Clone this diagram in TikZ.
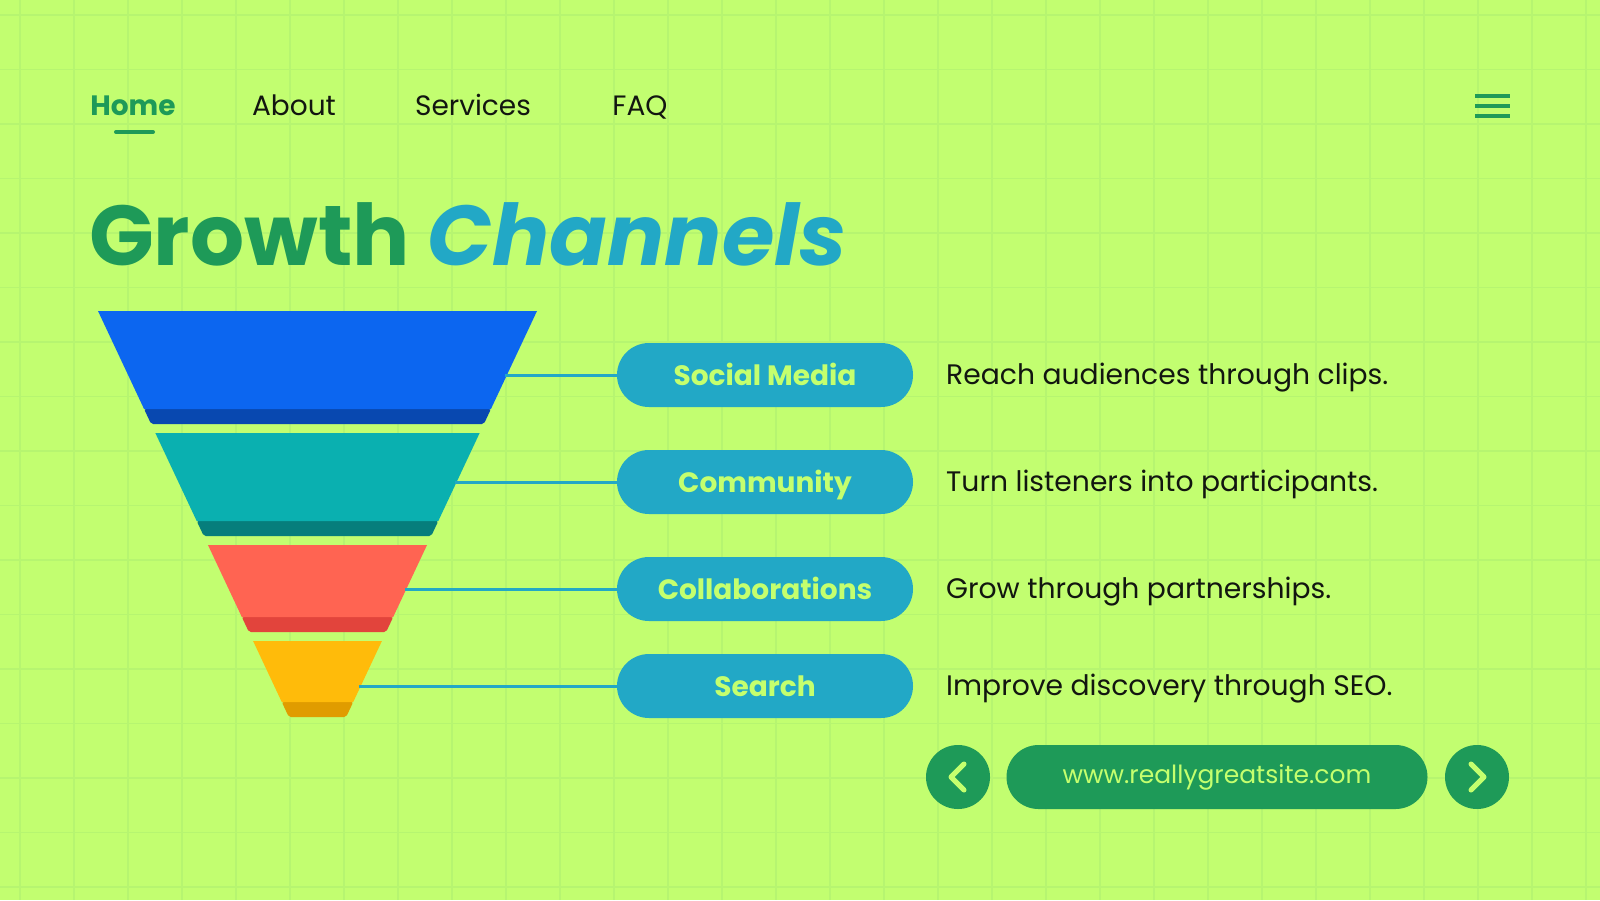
\documentclass[tikz,border=0pt]{standalone}
\usepackage{fontspec}
\setmainfont{Poppins}
\definecolor{bgLime}{RGB}{194,254,112}
\definecolor{gridLime}{RGB}{182,245,112}
\definecolor{darkGreen}{RGB}{30,154,88}
\definecolor{pillTeal}{RGB}{34,168,198}
\definecolor{inkBlack}{RGB}{18,22,16}
\definecolor{limeText}{RGB}{196,255,110}
\definecolor{fBlue}{RGB}{12,102,240}
\definecolor{fBlueD}{RGB}{8,72,176}
\definecolor{fTeal}{RGB}{10,176,176}
\definecolor{fTealD}{RGB}{6,126,124}
\definecolor{fRed}{RGB}{255,100,82}
\definecolor{fRedD}{RGB}{226,68,60}
\definecolor{fGold}{RGB}{255,187,10}
\definecolor{fGoldD}{RGB}{224,156,0}
\tikzset{
  gridline/.style={draw=gridLime, line width=1.3pt},
  navitem/.style={inner sep=0, anchor=base, text=inkBlack, font=\fontsize{28}{30}\selectfont},
  pill/.style={fill=pillTeal, rounded corners=32pt, minimum width=296pt, minimum height=64pt, inner sep=0,
    text height=20pt, text depth=0pt, text=limeText, font=\bfseries\fontsize{28}{30}\selectfont},
  desc/.style={inner sep=0, anchor=base west, text=inkBlack, font=\fontsize{28.2}{30}\selectfont},
  link/.style={draw=pillTeal, line width=3pt},
  roundbtn/.style={circle, fill=darkGreen, minimum size=64pt, inner sep=0},
  chev/.style={draw=limeText, line width=5pt, line cap=round, line join=round},
}
\begin{document}
\begin{tikzpicture}[x=1pt,y=-1pt]
\useasboundingbox (0,0) rectangle (1600,900);
\fill[bgLime] (0,0) rectangle (1600,900);
% grid
\foreach \i in {0,...,29} \draw[gridline] (20+54*\i,0) -- (20+54*\i,900);
\foreach \j in {0,...,16} \draw[gridline] (0,15+54.5*\j) -- (1600,15+54.5*\j);

% menu
\node[navitem, text=darkGreen, font=\bfseries\fontsize{28}{30}\selectfont] (home) at (133,115) {Home};
\node[navitem] (about) at (294,115) {About};
\node[navitem] (services) at (473,115) {Services};
\node[navitem] (faq) at (640,115) {FAQ};
\draw[darkGreen, line width=4pt, line cap=round] (116,132) -- (153,132);
\foreach \y in {96,106,116} \draw[darkGreen, line width=3.5pt] (1475,\y) -- (1510,\y);

% title
\node[inner sep=0, anchor=base west, font=\bfseries\fontsize{85}{90}\selectfont] (title) at (89,265)
  {\textcolor{darkGreen}{Growth} \textcolor{pillTeal}{\itshape Channels}};

% funnel
\foreach \yt/\yb/\cm/\cd in {311/424/fBlue/fBlueD, 433/536/fTeal/fTealD, 545/632/fRed/fRedD, 641/717/fGold/fGoldD}{
  \pgfmathsetmacro{\wt}{219.5-0.47*(\yt-311)}
  \pgfmathsetmacro{\wb}{219.5-0.47*(\yb-311)}
  \pgfmathsetmacro{\ys}{\yb-15}
  \pgfmathsetmacro{\ws}{219.5-0.47*(\ys-311)}
  \fill[\cd, rounded corners=2pt] (317.5-\ws,\ys) -- (317.5+\ws,\ys) -- (317.5+\wb,\yb) -- (317.5-\wb,\yb) -- cycle;
  \fill[\cm] (317.5-\wt,\yt) -- (317.5+\wt,\yt) -- (317.5+\ws,\ys) -- (317.5-\ws,\ys) -- cycle;
}

% channels
\coordinate (cSocial) at (505,375);
\coordinate (cCommunity) at (455,482);
\coordinate (cCollab) at (405,589);
\coordinate (cSearch) at (359,686);
\node[pill] (pSocial) at (765,375) {Social Media};
\node[pill] (pCommunity) at (765,482) {Community};
\node[pill] (pCollab) at (765,589) {Collaborations};
\node[pill] (pSearch) at (765,686) {Search};
\draw[link] (cSocial) -- (pSocial);
\draw[link] (cCommunity) -- (pCommunity);
\draw[link] (cCollab) -- (pCollab);
\draw[link] (cSearch) -- (pSearch);
\node[desc] (dSocial) at (946,384.5) {Reach audiences through clips.};
\node[desc] (dCommunity) at (946,491.5) {Turn listeners into participants.};
\node[desc] (dCollab) at (946,598.5) {Grow through partnerships.};
\node[desc] (dSearch) at (946,695.5) {Improve discovery through SEO.};

% footer
\node[roundbtn] (bPrev) at (958,777) {};
\node[roundbtn] (bNext) at (1477,777) {};
\node[fill=darkGreen, rounded corners=32pt, minimum width=421pt, minimum height=64pt, inner sep=0,
  text=limeText, font=\fontsize{25}{28}\selectfont] (uPill) at (1217,777) {www.reallygreatsite.com};
\draw[chev] ([shift={(6,-13)}]bPrev.center) -- ([shift={(-7,0)}]bPrev.center) -- ([shift={(6,13)}]bPrev.center);
\draw[chev] ([shift={(-6,-13)}]bNext.center) -- ([shift={(7,0)}]bNext.center) -- ([shift={(-6,13)}]bNext.center);
\end{tikzpicture}
\end{document}
